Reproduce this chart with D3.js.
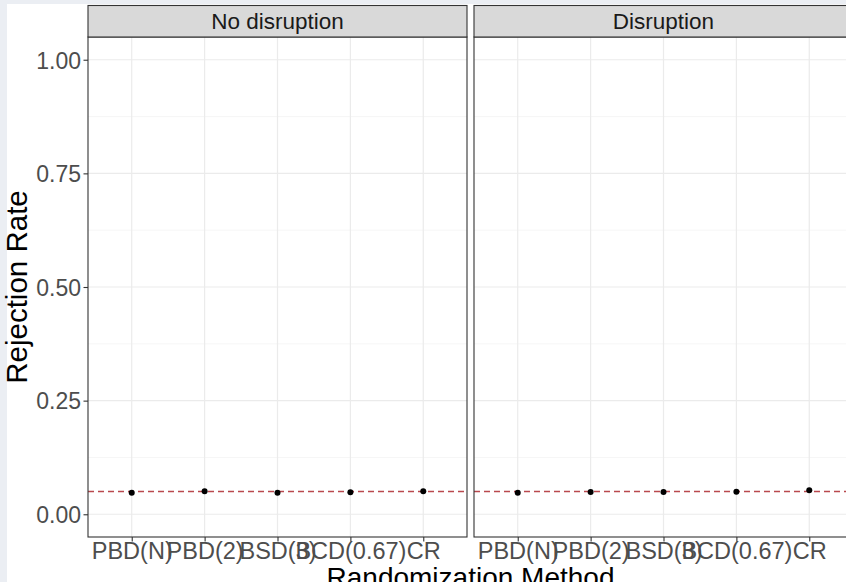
<!DOCTYPE html>
<html>
<head>
<meta charset="utf-8">
<script src="https://cdn.jsdelivr.net/npm/d3@7"></script>
<style>
html,body{margin:0;padding:0;background:#ebeef3;}
svg{display:block;}
</style>
</head>
<body>
<svg id="chart" width="846" height="582"></svg>
<script>
const categories = ["PBD(N)", "PBD(2)", "BSD(3)", "BCD(0.67)", "CR"];
const panelNames = ["No disruption", "Disruption"];
const noDisruption = [0.0475, 0.0505, 0.0475, 0.0483, 0.0505];
const disruption = [0.0475, 0.0490, 0.0490, 0.0497, 0.0527];
const refLine = 0.05;
const yTicks = [0, 0.25, 0.50, 0.75, 1.00];
const yMinor = [0.125, 0.375, 0.625, 0.875];

const seriesByPanel = [noDisruption, disruption];
const font = "'Liberation Sans', Arial, Helvetica, sans-serif";
const svg = d3.select("#chart");

// white plot background (page fringe visible at left/top)
svg.append("rect").attr("x", 7).attr("y", 4).attr("width", 846).attr("height", 582).attr("fill", "#ffffff");

const panelTop = 37, panelBottom = 537;
const panelW = 379;
const panelLefts = [88, 474];
const stripTop = 5.5;

const y = d3.scaleLinear().domain([-0.05, 1.05]).range([panelBottom, panelTop]);

panelNames.forEach((name, pi) => {
  const x0 = panelLefts[pi];
  const x = d3.scalePoint().domain(categories).range([x0, x0 + panelW]).padding(0.6);
  const g = svg.append("g");

  g.append("rect").attr("x", x0).attr("y", panelTop).attr("width", panelW).attr("height", panelBottom - panelTop).attr("fill", "#fff");

  g.selectAll(".ymin").data(yMinor).enter().append("line")
    .attr("x1", x0).attr("x2", x0 + panelW)
    .attr("y1", d => y(d)).attr("y2", d => y(d))
    .attr("stroke", "#f4f4f4").attr("stroke-width", 0.8);
  g.selectAll(".ymaj").data(yTicks).enter().append("line")
    .attr("x1", x0).attr("x2", x0 + panelW)
    .attr("y1", d => y(d)).attr("y2", d => y(d))
    .attr("stroke", "#ebebeb").attr("stroke-width", 1.2);
  g.selectAll(".xmaj").data(categories).enter().append("line")
    .attr("x1", d => x(d)).attr("x2", d => x(d))
    .attr("y1", panelTop).attr("y2", panelBottom)
    .attr("stroke", "#ebebeb").attr("stroke-width", 1.2);

  g.append("line")
    .attr("x1", x0).attr("x2", x0 + panelW)
    .attr("y1", y(refLine)).attr("y2", y(refLine))
    .attr("stroke", "#b9484e").attr("stroke-width", 1.6)
    .attr("stroke-dasharray", "6,4");

  g.selectAll(".pt").data(seriesByPanel[pi]).enter().append("circle")
    .attr("cx", (d, i) => x(categories[i]))
    .attr("cy", d => y(d))
    .attr("r", 3)
    .attr("fill", "#000");

  g.append("rect").attr("x", x0).attr("y", panelTop).attr("width", panelW).attr("height", panelBottom - panelTop)
    .attr("fill", "none").attr("stroke", "#333333").attr("stroke-width", 1.1);

  g.append("rect").attr("x", x0).attr("y", stripTop).attr("width", panelW).attr("height", panelTop - stripTop)
    .attr("fill", "#d9d9d9").attr("stroke", "#333333").attr("stroke-width", 1.1);
  g.append("text").attr("x", x0 + panelW / 2).attr("y", 29)
    .attr("text-anchor", "middle").attr("font-family", font).attr("font-size", 22.5)
    .attr("fill", "#1a1a1a").text(name);

  const xAxis = d3.axisBottom(x).tickSize(4.5).tickPadding(3);
  const ax = g.append("g").attr("transform", `translate(0,${panelBottom})`).call(xAxis);
  ax.select(".domain").remove();
  ax.selectAll(".tick line").attr("stroke", "#333333").attr("stroke-width", 1.1);
  ax.selectAll(".tick text").attr("font-family", font).attr("font-size", 23.5).attr("fill", "#4d4d4d")
    .attr("dy", null).attr("y", 22);

  if (pi === 0) {
    const yAxis = d3.axisLeft(y).tickValues(yTicks).tickFormat(d3.format(".2f")).tickSize(4.5).tickPadding(2.5);
    const ay = g.append("g").attr("transform", `translate(${x0},0)`).call(yAxis);
    ay.select(".domain").remove();
    ay.selectAll(".tick line").attr("stroke", "#333333").attr("stroke-width", 1.1);
    ay.selectAll(".tick text").attr("font-family", font).attr("font-size", 23).attr("fill", "#4d4d4d")
      .attr("dy", "0.36em");
  }
});

svg.append("text")
  .attr("transform", `translate(27,${(panelTop + panelBottom) / 2}) rotate(-90)`)
  .attr("text-anchor", "middle").attr("font-family", font).attr("font-size", 29.5)
  .attr("fill", "#000").text("Rejection Rate");

svg.append("text")
  .attr("x", (panelLefts[0] + panelLefts[1] + panelW) / 2).attr("y", 587)
  .attr("text-anchor", "middle").attr("font-family", font).attr("font-size", 28)
  .attr("fill", "#000").text("Randomization Method");
</script>
</body>
</html>
